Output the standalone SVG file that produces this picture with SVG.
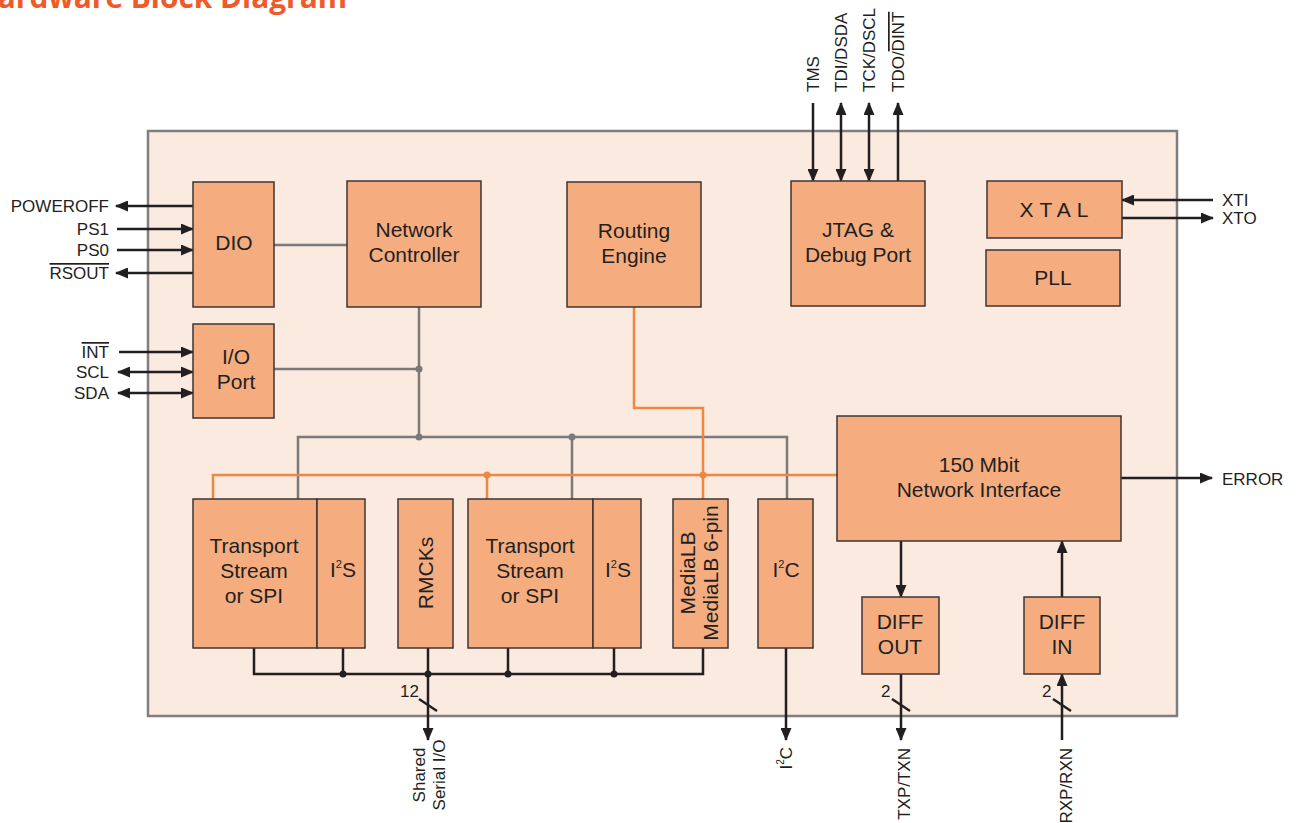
<svg xmlns="http://www.w3.org/2000/svg" width="1298" height="823" viewBox="0 0 1298 823">
<style>
text{font-family:"Liberation Sans",Arial,sans-serif;fill:#231f20}
.blk{fill:#f5ad80;stroke:#3d3535;stroke-width:1.5}
.bt{font-size:21px;text-anchor:middle}
.pin{font-size:17px}
.g{fill:none;stroke:#7b7979;stroke-width:2.5}
.o{fill:none;stroke:#f0873f;stroke-width:2.5}
.k{fill:none;stroke:#231f20;stroke-width:2.5}
.ar{marker-end:url(#ah)}
.dar{marker-end:url(#ah);marker-start:url(#ah)}
</style>
<defs>
<marker id="ah" markerUnits="userSpaceOnUse" viewBox="0 0 13 11" refX="12" refY="5.5" markerWidth="13" markerHeight="11" orient="auto-start-reverse"><path d="M0,0 L13,5.5 L0,11 z" fill="#231f20"/></marker>
</defs>
<rect width="1298" height="823" fill="#ffffff"/>
<text x="-25" y="8" font-size="30" font-weight="bold" textLength="372" lengthAdjust="spacingAndGlyphs" style="fill:#ee5a2a;font-family:'Open Sans','Liberation Sans',sans-serif">Hardware Block Diagram</text>
<rect id="chip" x="148" y="131" width="1029" height="585" fill="#fbeadf" stroke="#7f7f7f" stroke-width="2.5"/>

<g id="connectors">
<!-- gray -->
<path class="g" d="M274,245 H347"/>
<path class="g" d="M419,307 V437"/>
<path class="g" d="M274,369 H419"/>
<path class="g" d="M298,499 V437 H787 V499"/>
<path class="g" d="M572,437 V499"/>
<!-- orange -->
<path class="o" d="M213,499 V475 H837"/>
<path class="o" d="M487,475 V499"/>
<path class="o" d="M634,307 V408 H703 V499"/>
<!-- black bus -->
<path class="k" d="M254,648 V674 H703 V648"/>
<path class="k" d="M343,648 V674"/>
<path class="k" d="M428,648 V674"/>
<path class="k" d="M508,648 V674"/>
<path class="k" d="M614,648 V674"/>
<path class="k ar" d="M428,674 V740"/>
<path class="k" d="M419,699 L437,711"/>
<path class="k ar" d="M786,648 V740"/>
<path class="k ar" d="M901,674 V740"/>
<path class="k" d="M892,699 L910,711"/>
<path class="k ar" d="M1062,740 V674"/>
<path class="k" d="M1053,699 L1071,711"/>
<path class="k ar" d="M901,541 V597"/>
<path class="k ar" d="M1062,597 V541"/>
<path class="k ar" d="M1121,478 H1212"/>
<path class="k ar" d="M1213,200 H1122"/>
<path class="k ar" d="M1121,218 H1213"/>
<!-- left pins -->
<path class="k ar" d="M193,206 H116"/>
<path class="k ar" d="M117,229 H193"/>
<path class="k ar" d="M117,250 H193"/>
<path class="k ar" d="M193,273 H116"/>
<path class="k ar" d="M119,352 H193"/>
<path class="k dar" d="M118,372 H193"/>
<path class="k dar" d="M118,393 H193"/>
<!-- jtag pins -->
<path class="k ar" d="M813,103 V181"/>
<path class="k dar" d="M841,103 V181"/>
<path class="k dar" d="M869,103 V181"/>
<path class="k ar" d="M898,181 V103"/>
<!-- dots -->
<g fill="#7b7979"><circle cx="419" cy="369" r="3.5"/><circle cx="419" cy="437" r="3.5"/><circle cx="572" cy="437" r="3.5"/></g>
<g fill="#f0873f"><circle cx="487" cy="475" r="3.5"/><circle cx="703" cy="475" r="3.5"/></g>
<g fill="#231f20"><circle cx="343" cy="674" r="3.5"/><circle cx="428" cy="674" r="3.5"/><circle cx="508" cy="674" r="3.5"/><circle cx="614" cy="674" r="3.5"/></g>
</g>

<g id="dio"><rect class="blk" x="193" y="182" width="81" height="125"/><text class="bt" x="234" y="250">DIO</text></g>
<g id="ioport"><rect class="blk" x="193" y="324" width="81" height="94"/><text class="bt" x="236" y="364">I/O</text><text class="bt" x="236" y="389">Port</text></g>
<g id="netctrl"><rect class="blk" x="347" y="181" width="134" height="126"/><text class="bt" x="414" y="237">Network</text><text class="bt" x="414" y="262">Controller</text></g>
<g id="routing"><rect class="blk" x="567" y="182" width="134" height="125"/><text class="bt" x="634" y="238">Routing</text><text class="bt" x="634" y="263">Engine</text></g>
<g id="jtag"><rect class="blk" x="791" y="181" width="134" height="125"/><text class="bt" x="858" y="237">JTAG &amp;</text><text class="bt" x="858" y="262">Debug Port</text></g>
<g id="xtal"><rect class="blk" x="987" y="181" width="135" height="57"/><text class="bt" x="1057" y="217" letter-spacing="6">XTAL</text></g>
<g id="pll"><rect class="blk" x="986" y="250" width="134" height="56"/><text class="bt" x="1053" y="285">PLL</text></g>
<g id="netif"><rect class="blk" x="837" y="416" width="284" height="125"/><text class="bt" x="979" y="472">150 Mbit</text><text class="bt" x="979" y="497">Network Interface</text></g>
<g id="diffout"><rect class="blk" x="862" y="597" width="77" height="77"/><text class="bt" x="900" y="629">DIFF</text><text class="bt" x="900" y="654">OUT</text></g>
<g id="diffin"><rect class="blk" x="1024" y="597" width="76" height="77"/><text class="bt" x="1062" y="629">DIFF</text><text class="bt" x="1062" y="654">IN</text></g>
<g id="ts1"><rect class="blk" x="193" y="499" width="124" height="149"/><text class="bt" x="254" y="553">Transport</text><text class="bt" x="254" y="578">Stream</text><text class="bt" x="254" y="603">or SPI</text></g>
<g id="i2s1"><rect class="blk" x="317" y="499" width="48" height="149"/><text class="bt" x="343" y="577">I<tspan font-size="11" dy="-9">2</tspan><tspan dy="9">S</tspan></text></g>
<g id="rmcks"><rect class="blk" x="398" y="499" width="55" height="149"/><text class="bt" transform="translate(433,573) rotate(-90)">RMCKs</text></g>
<g id="ts2"><rect class="blk" x="468" y="499" width="125" height="149"/><text class="bt" x="530" y="553">Transport</text><text class="bt" x="530" y="578">Stream</text><text class="bt" x="530" y="603">or SPI</text></g>
<g id="i2s2"><rect class="blk" x="593" y="499" width="48" height="149"/><text class="bt" x="618" y="577">I<tspan font-size="11" dy="-9">2</tspan><tspan dy="9">S</tspan></text></g>
<g id="medialb"><rect class="blk" x="673" y="499" width="55" height="149"/><text class="bt" transform="translate(695,573) rotate(-90)">MediaLB</text><text class="bt" transform="translate(718,573) rotate(-90)">MediaLB 6-pin</text></g>
<g id="i2c"><rect class="blk" x="758" y="499" width="55" height="149"/><text class="bt" x="786" y="577">I<tspan font-size="11" dy="-9">2</tspan><tspan dy="9">C</tspan></text></g>

<g id="labels" class="pin">
<text x="109" y="212" text-anchor="end">POWEROFF</text>
<text x="109" y="235" text-anchor="end">PS1</text>
<text x="109" y="256" text-anchor="end">PS0</text>
<text x="109" y="279" text-anchor="end" text-decoration="overline">RSOUT</text>
<text x="109" y="358" text-anchor="end" text-decoration="overline">INT</text>
<text x="109" y="378" text-anchor="end">SCL</text>
<text x="109" y="399" text-anchor="end">SDA</text>
<text transform="translate(819,92) rotate(-90)">TMS</text>
<text transform="translate(847,92) rotate(-90)">TDI/DSDA</text>
<text transform="translate(875,92) rotate(-90)">TCK/DSCL</text>
<text transform="translate(904,92) rotate(-90)">TDO/<tspan text-decoration="overline">DINT</tspan></text>
<text x="1222" y="206">XTI</text>
<text x="1222" y="224">XTO</text>
<text x="1222" y="485">ERROR</text>
<text x="400" y="697">12</text>
<text x="881" y="697">2</text>
<text x="1042" y="697">2</text>
<text transform="translate(425,775) rotate(-90)" text-anchor="middle">Shared</text>
<text transform="translate(445,775) rotate(-90)" text-anchor="middle">Serial I/O</text>
<text transform="translate(792,747) rotate(-90)" text-anchor="end">I<tspan font-size="10" dy="-8">2</tspan><tspan dy="8">C</tspan></text>
<text transform="translate(910,748) rotate(-90)" text-anchor="end">TXP/TXN</text>
<text transform="translate(1072,748) rotate(-90)" text-anchor="end">RXP/RXN</text>
</g>
</svg>
